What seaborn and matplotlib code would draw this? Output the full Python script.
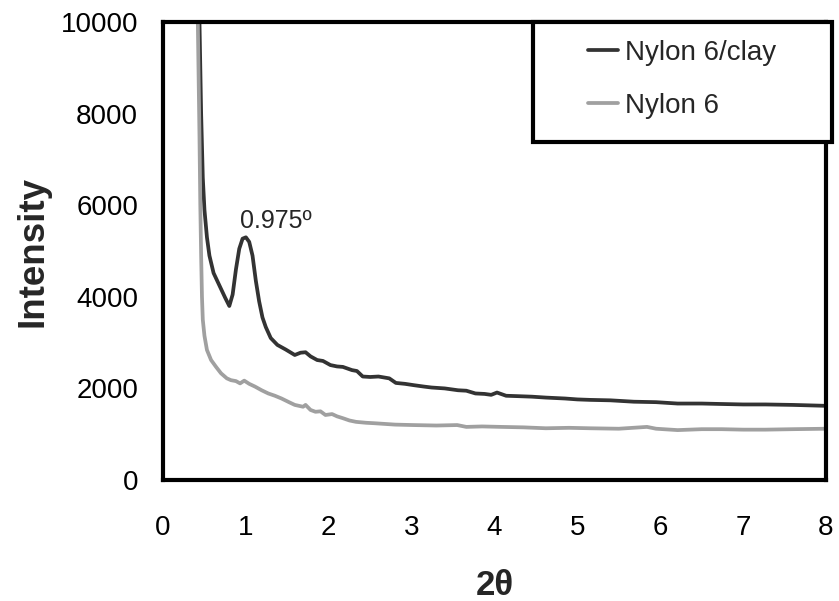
import numpy as np
import pandas as pd
import matplotlib.pyplot as plt
import seaborn as sns
from matplotlib.patches import Rectangle

sns.set_style('white')
plt.rcParams['font.family'] = ['Liberation Sans', 'DejaVu Sans']

# Nylon 6/clay
clay_x = [0.42, 0.44, 0.46, 0.48, 0.50, 0.53, 0.56, 0.61, 0.68, 0.75,
          0.80, 0.84, 0.88, 0.92, 0.96, 1.00, 1.04, 1.08, 1.12, 1.16,
          1.20, 1.24, 1.30, 1.38, 1.48, 1.59, 1.66, 1.72, 1.78, 1.86,
          1.93, 2.02, 2.10, 2.17, 2.28, 2.34, 2.41, 2.50, 2.60, 2.73,
          2.81, 2.92, 3.03, 3.15, 3.24, 3.40, 3.56, 3.66, 3.77, 3.88,
          3.96, 4.03, 4.14, 4.30, 4.45, 4.62, 4.85, 5.00, 5.15, 5.40,
          5.68, 5.95, 6.21, 6.50, 6.74, 7.00, 7.27, 7.60, 8.00]
clay_y = [12000, 10000, 8000, 6600, 5900, 5300, 4900, 4520, 4250, 3980,
          3800, 4050, 4600, 5050, 5270, 5300, 5200, 4900, 4350, 3900,
          3550, 3340, 3100, 2950, 2850, 2730, 2780, 2790, 2700, 2620,
          2600, 2510, 2480, 2470, 2400, 2380, 2260, 2250, 2260, 2220,
          2120, 2100, 2070, 2040, 2020, 2000, 1960, 1950, 1890, 1880,
          1860, 1910, 1840, 1830, 1820, 1800, 1780, 1760, 1750, 1740,
          1710, 1700, 1670, 1670, 1660, 1650, 1650, 1640, 1620]

# Nylon 6
nylon_x = [0.40, 0.42, 0.44, 0.45, 0.46, 0.47, 0.48, 0.50, 0.53, 0.58,
           0.64, 0.70, 0.77, 0.82, 0.88, 0.93, 0.98, 1.04, 1.11, 1.19,
           1.27, 1.35, 1.43, 1.52, 1.59, 1.69, 1.72, 1.78, 1.84, 1.90,
           1.96, 2.04, 2.10, 2.17, 2.25, 2.33, 2.45, 2.55, 2.80, 3.02,
           3.30, 3.55, 3.66, 3.85, 4.08, 4.35, 4.62, 4.90, 5.15, 5.50,
           5.84, 5.95, 6.21, 6.50, 6.74, 7.00, 7.27, 7.60, 8.00]
nylon_y = [12000, 10000, 7500, 6000, 4900, 4000, 3500, 3150, 2840, 2620,
           2470, 2330, 2220, 2180, 2160, 2110, 2170, 2100, 2040, 1960,
           1890, 1840, 1780, 1700, 1640, 1600, 1640, 1530, 1490, 1500,
           1420, 1440, 1390, 1350, 1300, 1270, 1250, 1240, 1210, 1200,
           1190, 1200, 1160, 1170, 1160, 1150, 1130, 1140, 1130, 1120,
           1160, 1120, 1090, 1110, 1110, 1100, 1100, 1110, 1120]

labels = ['Nylon 6/clay', 'Nylon 6']
peak_label = '0.975º'

fig = plt.figure(figsize=(8.39, 6.01), dpi=100)
ax = fig.add_axes([0.1943, 0.2013, 0.7902, 0.762])

sns.lineplot(x=clay_x, y=clay_y, color='#333333', lw=2.7, ax=ax,
             estimator=None, sort=False, label=labels[0])
sns.lineplot(x=nylon_x, y=nylon_y, color='#a0a0a0', lw=2.7, ax=ax,
             estimator=None, sort=False, label=labels[1])
handles, labs = ax.get_legend_handles_labels()
ax.get_legend().remove()

ax.set_xlim(0, 8)
ax.set_ylim(0, 10000)
ax.set_xticks(range(0, 9))
ax.set_yticks(range(0, 10001, 2000))
ax.tick_params(direction='in', length=7, width=2.5, labelsize=20, colors='black')
ax.tick_params(axis='x', pad=25)
ax.tick_params(axis='y', pad=18)
for s in ax.spines.values():
    s.set_linewidth(3)
    s.set_color('black')

ax.set_xlabel('2θ', fontsize=25, fontweight='bold', labelpad=20)
ax.set_ylabel('Intensity', fontsize=26.5, fontweight='bold')
ax.yaxis.set_label_coords(-0.17, 0.5)

ax.text(0.93, 5660, peak_label, fontsize=18, ha='left', va='center')

# legend box
fig.add_artist(Rectangle((0.6353, 0.7637), 0.3564, 0.1997, transform=fig.transFigure,
                         fc='white', ec='black', lw=3, zorder=3, clip_on=False))
fig.legend(handles, labs, loc='center', bbox_to_anchor=(0.8135, 0.8677),
           frameon=False, fontsize=20, handlelength=1.08, handletextpad=0.25,
           labelspacing=0.98)

fig.savefig('out.png', dpi=100)
